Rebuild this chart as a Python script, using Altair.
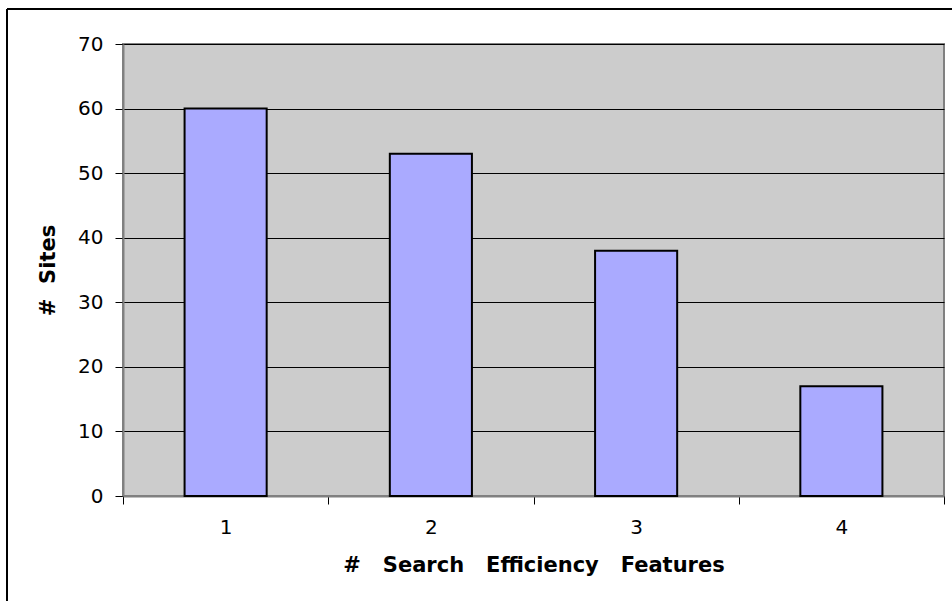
import altair as alt
import pandas as pd

categories = ["1", "2", "3", "4"]
values = [60, 53, 38, 17]
y_ticks = [0, 10, 20, 30, 40, 50, 60, 70]

df = pd.DataFrame({"features": categories, "sites": values})

FONT = "DejaVu Sans"
NB = "\u00a0"
x_title = f"#{NB*3}Search{NB*3}Efficiency{NB*3}Features"
y_title = f"#{NB*2}Sites"

bars = alt.Chart(df).mark_bar(
    width=alt.RelativeBandSize(0.4), color="#AAAAFF", stroke="#000000", strokeWidth=2
).encode(
    x=alt.X("features:O", sort=categories,
            scale=alt.Scale(paddingInner=0, paddingOuter=0),
            axis=alt.Axis(title=x_title, labelAngle=0,
                          tickBand="extent", grid=False, domainColor="#808080",
                          domainWidth=2, tickColor="#000000", tickSize=8,
                          labelPadding=13, titlePadding=17)),
    y=alt.Y("sites:Q", scale=alt.Scale(domain=[0, 70], nice=False),
            axis=alt.Axis(title=y_title, values=y_ticks, grid=True,
                          gridColor="#000000", gridWidth=1, domainColor="#808080",
                          domainWidth=2, tickColor="#000000", tickSize=8,
                          labelPadding=12, titlePadding=19)),
)

frame_top = alt.Chart(df).mark_rule(color="#000000", strokeWidth=2).encode(
    x=alt.value(-116), x2=alt.value(840), y=alt.value(-35)
)
frame_left = alt.Chart(df).mark_rule(color="#000000", strokeWidth=2).encode(
    x=alt.value(-116), y=alt.value(-35), y2=alt.value(600)
)

chart = alt.layer(bars, frame_top, frame_left).properties(
    width=821, height=452,
    autosize=alt.AutoSizeParams(type="none"),
    padding={"left": 123, "top": 44, "right": 8, "bottom": 105},
    background="#FFFFFF",
).configure_view(
    fill="#CCCCCC", stroke="#808080", strokeWidth=2
).configure_axis(
    labelFont=FONT, labelFontSize=20, labelColor="#000000",
    titleFont=FONT, titleFontSize=21, titleFontWeight="bold", titleColor="#000000",
)

chart.save("out.html", embed_options={"renderer": "svg", "actions": False})
